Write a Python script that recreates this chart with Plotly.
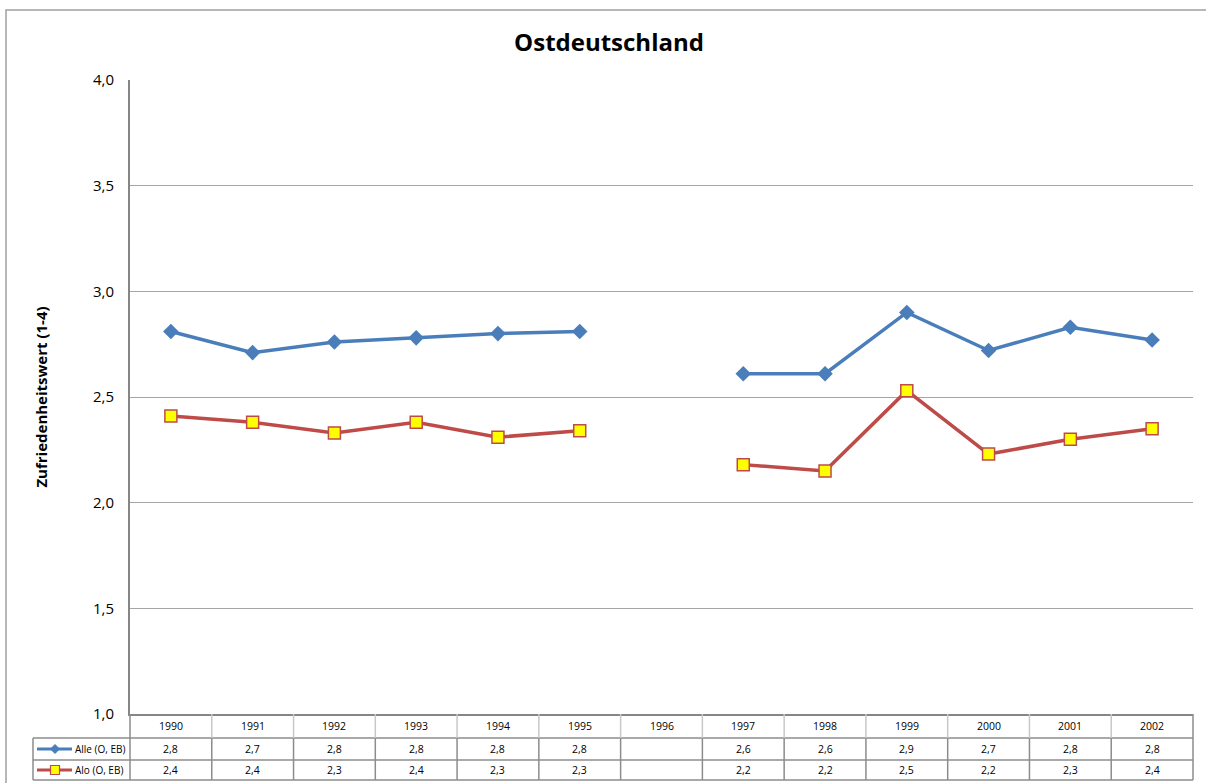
import plotly.graph_objects as go
from decimal import Decimal, ROUND_HALF_UP

years = ["1990", "1991", "1992", "1993", "1994", "1995", "1996",
         "1997", "1998", "1999", "2000", "2001", "2002"]
alle = [2.81, 2.71, 2.76, 2.78, 2.80, 2.81, None, 2.61, 2.61, 2.90, 2.72, 2.83, 2.77]
alo = [2.41, 2.38, 2.33, 2.38, 2.31, 2.34, None, 2.18, 2.15, 2.53, 2.23, 2.30, 2.35]
series_names = ["Alle (O, EB)", "Alo (O, EB)"]
title_text = "Ostdeutschland"
y_title = "Zufriedenheitswert (1-4)"

BLUE = "#4a7ebb"
RED = "#be4b48"
GRID = "#a6a6a6"
AXIS = "#868686"
FONT = "Open Sans"

W, H = 1206, 783
L, R, T, B = 130, 1193, 80, 714


def px(xp):
    return (xp - L) / (R - L)


def py(yp):
    return (B - yp) / (B - T)


def fmt(v):
    if v is None:
        return ""
    d = Decimal(str(v)).quantize(Decimal("0.1"), rounding=ROUND_HALF_UP)
    return str(d).replace(".", ",")


n = len(years)


def cat_x(i):
    return (i + 0.5) / n


fig = go.Figure()
fig.add_trace(go.Scatter(
    x=years, y=alle, mode="lines+markers", name=series_names[0],
    line=dict(color=BLUE, width=3.5),
    marker=dict(symbol="diamond", size=12, color=BLUE),
))
fig.add_trace(go.Scatter(
    x=years, y=alo, mode="lines+markers", name=series_names[1],
    line=dict(color=RED, width=3.5),
    marker=dict(symbol="square", size=12, color="#ffff00",
                line=dict(color=RED, width=1.5)),
))

shapes = []
# outer chart border
shapes.append(dict(type="rect", xref="paper", yref="paper",
                   x0=px(6), x1=px(1215), y0=py(795), y1=py(10),
                   line=dict(color="#a0a0a0", width=1.5), layer="below"))

# table lines
for yy in [738, 760, 780]:
    shapes.append(dict(type="line", xref="paper", yref="paper",
                       x0=px(33), x1=px(R), y0=py(yy), y1=py(yy),
                       line=dict(color="#8c8c8c", width=1.5)))
shapes.append(dict(type="line", xref="paper", yref="paper",
                   x0=px(33), x1=px(33), y0=py(738), y1=py(780),
                   line=dict(color="#8c8c8c", width=1.5)))
for i in range(n + 1):
    xv = i / n
    shapes.append(dict(type="line", xref="paper", yref="paper",
                       x0=xv, x1=xv, y0=py(714), y1=py(738),
                       line=dict(color="#c8c8c8" if 0 < i < n else "#8c8c8c", width=1.5)))
    shapes.append(dict(type="line", xref="paper", yref="paper",
                       x0=xv, x1=xv, y0=py(738), y1=py(780),
                       line=dict(color="#8c8c8c", width=1.5)))

# legend keys inside table
for yy, col in [(749, BLUE), (770, RED)]:
    shapes.append(dict(type="line", xref="paper", yref="paper",
                       x0=px(37), x1=px(72), y0=py(yy), y1=py(yy),
                       line=dict(color=col, width=3)))
cx, cy, r = 55, 749, 4.5
shapes.append(dict(type="path", xref="paper", yref="paper",
                   path=f"M {px(cx)} {py(cy - r)} L {px(cx + r)} {py(cy)} L {px(cx)} {py(cy + r)} L {px(cx - r)} {py(cy)} Z",
                   fillcolor=BLUE, line=dict(color=BLUE, width=1)))
cx, cy, r = 55, 770, 4.5
shapes.append(dict(type="rect", xref="paper", yref="paper",
                   x0=px(cx - r), x1=px(cx + r), y0=py(cy + r), y1=py(cy - r),
                   fillcolor="#ffff00", line=dict(color=RED, width=1.2)))

annotations = []
cell_font = dict(size=10.5, color="black", family=FONT)
for i, yr in enumerate(years):
    annotations.append(dict(x=cat_x(i), y=py(726), xref="paper", yref="paper", text=yr,
                            xanchor="center", yanchor="middle",
                            showarrow=False, font=cell_font))
for vals, yy in [(alle, 749), (alo, 770)]:
    for i, v in enumerate(vals):
        t = fmt(v)
        if t:
            annotations.append(dict(x=cat_x(i), y=py(yy), xref="paper", yref="paper", text=t,
                                    xanchor="center", yanchor="middle",
                                    showarrow=False, font=cell_font))
for name, yy in [(series_names[0], 749), (series_names[1], 770)]:
    annotations.append(dict(x=px(73), y=py(yy), xref="paper", yref="paper", text=name,
                            xanchor="left", yanchor="middle", showarrow=False,
                            font=dict(size=10, color="black", family=FONT)))

fig.update_layout(
    width=W, height=H,
    margin=dict(l=L, r=W - R, t=T, b=H - B, pad=0),
    paper_bgcolor="white", plot_bgcolor="white",
    separators=",.",
    showlegend=False,
    title=dict(text=f"<b>{title_text}</b>", x=0.505, xanchor="center",
               y=1 - 43 / H, yanchor="middle",
               font=dict(size=24, color="black", family=FONT)),
    xaxis=dict(type="category", range=[-0.5, n - 0.5], showticklabels=False,
               ticks="", showgrid=False, showline=True, linecolor=AXIS, linewidth=2,
               zeroline=False, fixedrange=True),
    yaxis=dict(range=[1.0, 4.0], tick0=1.0, dtick=0.5, tickformat=".1f",
               showgrid=True, gridcolor=GRID, gridwidth=1.2,
               showline=True, linecolor=AXIS, linewidth=2, zeroline=False,
               ticks="", ticklabelstandoff=11,
               tickfont=dict(size=15, color="black", family=FONT),
               title=dict(text=f"<b>{y_title}</b>", standoff=42,
                          font=dict(size=15, color="black", family=FONT))),
    shapes=shapes,
    annotations=annotations,
)

fig.write_html("out.html", config={"displayModeBar": False},
               post_script="document.body.style.margin='0';document.body.style.overflow='hidden';")
